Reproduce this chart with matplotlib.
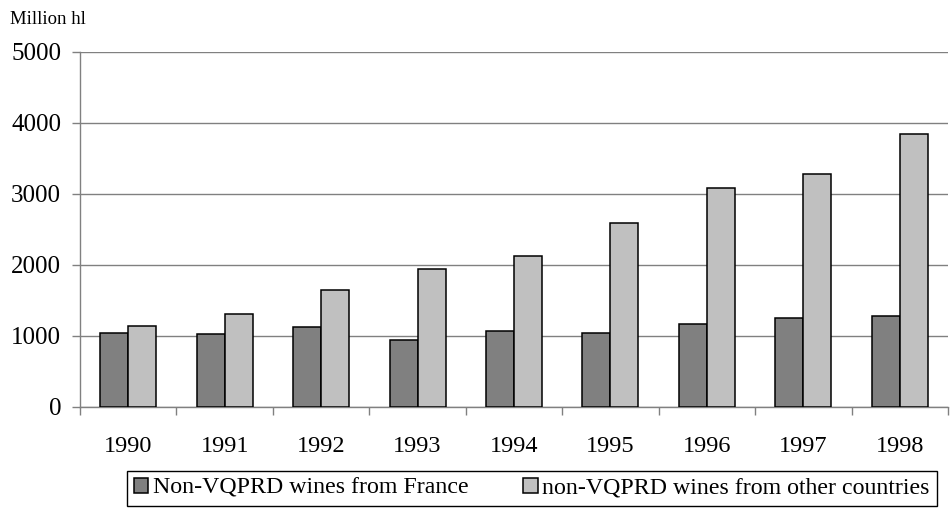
import matplotlib
matplotlib.use("Agg")
import matplotlib.pyplot as plt
import numpy as np

years = ["1990", "1991", "1992", "1993", "1994", "1995", "1996", "1997", "1998"]
france = [1041, 1022, 1126, 944, 1062, 1042, 1165, 1250, 1273]
others = [1131, 1309, 1640, 1942, 2121, 2582, 3085, 3278, 3847]
series_labels = ["Non-VQPRD wines from France", "non-VQPRD wines from other countries"]
yticks = [0, 1000, 2000, 3000, 4000, 5000]

plt.rcParams['font.family'] = ['Liberation Serif', 'DejaVu Serif']

fig = plt.figure(figsize=(9.5, 5.08), dpi=100)
ax = fig.add_axes([80/950, 1-406.5/508, (948-80)/950, (406.5-52)/508])

x = np.arange(len(years))
w = 0.29
gray = '#808080'
ax.bar(x - w/2, france, width=w, color='#808080', edgecolor='black', linewidth=1.1,
       label=series_labels[0], zorder=3)
ax.bar(x + w/2, others, width=w, color='#c0c0c0', edgecolor='black', linewidth=1.1,
       label=series_labels[1], zorder=3)

ax.set_xlim(-0.5, len(years) - 0.5)
ax.set_ylim(0, 5000)
ax.set_yticks(yticks)
ax.set_yticklabels([str(v) for v in yticks], fontsize=18)
ax.yaxis.grid(True, color=gray, linewidth=1.0, zorder=0)
ax.set_axisbelow(True)

ax.set_xticks(x)
ax.set_xticklabels(years, fontsize=17.5)
ax.set_xticks(np.arange(len(years) + 1) - 0.5, minor=True)
ax.tick_params(axis='x', which='major', length=0, pad=21)
ax.tick_params(axis='x', which='minor', length=6, color=gray, width=1.0, direction='out')
ax.tick_params(axis='y', which='major', length=5.5, color=gray, width=1.0, pad=8)

for s in ['top', 'right']:
    ax.spines[s].set_visible(False)
for s in ['left', 'bottom']:
    ax.spines[s].set_color(gray)
    ax.spines[s].set_linewidth(1.0)

fig.text(10/950, 1-24/508, "Million hl", fontsize=13.5, ha='left', va='baseline')

leg = fig.legend(loc='lower right', bbox_to_anchor=(937/950, 2/508), ncol=2,
                 fontsize=17.2, frameon=True, fancybox=False, edgecolor='black',
                 framealpha=1, handlelength=0.6, handleheight=0.6, handletextpad=0.2,
                 columnspacing=2.3, borderpad=0.3, borderaxespad=0)
leg.get_frame().set_linewidth(1.0)

fig.savefig("out.png", dpi=100)
